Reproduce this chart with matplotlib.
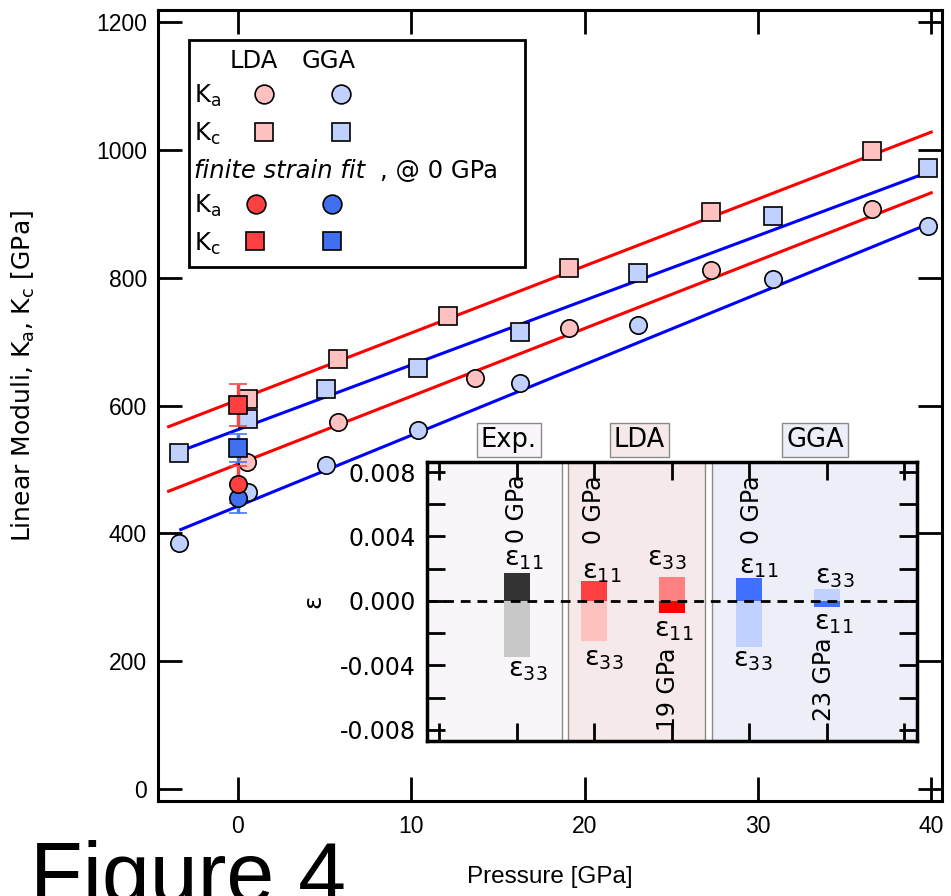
import matplotlib
matplotlib.use('Agg')
import matplotlib.pyplot as plt
import matplotlib.transforms as mtransforms
from matplotlib.patches import Rectangle
import numpy as np

plt.rcParams.update({
    "font.family": ['DejaVu Sans'],
    "font.size": 16,
    "mathtext.fontset": 'dejavusans',
})

NARROW = ['Liberation Sans', 'DejaVu Sans']

# calculated linear moduli (GPa) vs pressure (GPa)
p_lda_a = [0.5, 5.8, 13.7, 19.1, 27.3, 36.6]
k_lda_a = [512, 574, 643, 721, 812, 908]
p_lda_c = [0.6, 5.8, 12.1, 19.1, 27.3, 36.6]
k_lda_c = [610, 673, 740, 815, 903, 998]
p_gga = [-3.4, 0.6, 5.1, 10.4, 16.3, 23.1, 30.9, 39.8]
k_gga_a = [385, 465, 507, 562, 635, 726, 798, 881]
k_gga_c = [526, 579, 626, 659, 715, 808, 897, 972]

# finite strain fit curves (end points)
fit_p_lda = [-4.0, 40.0]
fit_lda_a = [466, 933]
fit_lda_c = [567, 1028]
fit_p_gga_a = [-3.3, 40.0]
fit_gga_a = [406, 886]
fit_p_gga_c = [-3.4, 39.7]
fit_gga_c = [528, 964]

# fitted moduli at 0 GPa with errors
k0_lda_a, dk0_lda_a = 477, 29
k0_lda_c, dk0_lda_c = 601, 33
k0_gga_a, dk0_gga_a = 455, 23
k0_gga_c, dk0_gga_c = 534, 22

# inset: strains
strain_x = [1, 2, 3, 4, 5]
eps11 = [0.00175, 0.00125, -0.00073, 0.00144, -0.00036]
eps33 = [-0.00348, -0.00248, 0.0015, -0.00288, 0.00075]
eps11_colors = ['#333333', '#FF4040', '#FF0000', '#4070FF', '#4070FF']
eps33_colors = ['#C8C8C8', '#FFC0C0', '#FF8080', '#C0D0FF', '#C0D0FF']

PINK = '#FFC0C0'
LBLUE = '#C0D0FF'
RED = '#FF4040'
BLUE = '#4070F0'

fig = plt.figure(figsize=(9.51, 8.96), dpi=100)
ax = fig.add_axes([0.166, 0.106, 0.8245, 0.8828])

ax.plot(fit_p_lda, fit_lda_c, color='#FF0000', lw=2.2, zorder=2)
ax.plot(fit_p_lda, fit_lda_a, color='#FF0000', lw=2.2, zorder=2)
ax.plot(fit_p_gga_c, fit_gga_c, color='#0000FF', lw=2.2, zorder=2)
ax.plot(fit_p_gga_a, fit_gga_a, color='#0000FF', lw=2.2, zorder=2)

mk = dict(ms=12.5, mec='black', mew=1.2, ls='none', zorder=3)
ax.plot(p_lda_a, k_lda_a, 'o', mfc=PINK, **mk)
ax.plot(p_lda_c, k_lda_c, 's', mfc=PINK, **mk)
ax.plot(p_gga, k_gga_a, 'o', mfc=LBLUE, **mk)
ax.plot(p_gga, k_gga_c, 's', mfc=LBLUE, **mk)

eb = dict(ms=12.5, mec='black', mew=1.2, capsize=6.5, elinewidth=2.5, capthick=2.5, zorder=4)
ax.errorbar([0], [k0_gga_a], yerr=dk0_gga_a, fmt='o', mfc=BLUE, ecolor='#4878F0', **eb)
ax.errorbar([0], [k0_lda_a], yerr=dk0_lda_a, fmt='o', mfc=RED, ecolor='#F04848', **eb)
ax.errorbar([0], [k0_gga_c], yerr=dk0_gga_c, fmt='s', mfc=BLUE, ecolor='#4878F0', **eb)
ax.errorbar([0], [k0_lda_c], yerr=dk0_lda_c, fmt='s', mfc=RED, ecolor='#F04848', **eb)

ax.set_xlim(-4.62, 40.62)
ax.set_ylim(-18.8, 1219)
ax.set_xticks([0, 10, 20, 30, 40])
ax.set_yticks(np.arange(0, 1201, 200))
ax.tick_params(direction='in', length=17, width=2, top=True, right=True, labelsize=16.5)
ax.tick_params(axis='x', pad=10)
ax.tick_params(axis='y', pad=8)
for lab in ax.get_xticklabels() + ax.get_yticklabels():
    lab.set_fontfamily(NARROW)
for s in ax.spines.values():
    s.set_linewidth(2.2)

ax.set_xlabel('Pressure [GPa]', fontsize=17.5, family=NARROW)
ax.xaxis.set_label_coords(0.5, -0.082)
ax.text(-0.171, 0.537, r'Linear Moduli, K$_\mathrm{a}$, K$_\mathrm{c}$ [GPa]', transform=ax.transAxes,
        rotation=90, ha='center', va='center', fontsize=18)

# legend box
ax.add_patch(Rectangle((0.0395, 0.675), 0.4285, 0.287, transform=ax.transAxes,
                       fc='white', ec='black', lw=2, zorder=5))
tl = dict(transform=ax.transAxes, fontsize=17.5, va='baseline', zorder=6)
ax.text(0.0918, 0.9267, 'LDA', **tl)
ax.text(0.1837, 0.9267, 'GGA', **tl)
ax.text(0.0459, 0.8824, r'K$_\mathrm{a}$', **tl)
ax.text(0.0459, 0.8344, r'K$_\mathrm{c}$', **tl)
ax.text(0.0459, 0.7876, 'finite strain fit', style='italic', **tl)
ax.text(0.283, 0.7876, ', @ 0 GPa', **tl)
ax.text(0.0459, 0.7434, r'K$_\mathrm{a}$', **tl)
ax.text(0.0459, 0.6953, r'K$_\mathrm{c}$', **tl)
lm = dict(transform=ax.transAxes, ms=13.5, mec='black', mew=1.2, ls='none', clip_on=False, zorder=7)
ax.plot([0.1352], [0.8938], 'o', mfc=PINK, **lm)
ax.plot([0.2334], [0.8938], 'o', mfc=LBLUE, **lm)
ax.plot([0.1352], [0.8458], 's', mfc=PINK, **lm)
ax.plot([0.2334], [0.8458], 's', mfc=LBLUE, **lm)
ax.plot([0.1250], [0.7547], 'o', mfc=RED, **lm)
ax.plot([0.2219], [0.7547], 'o', mfc=BLUE, **lm)
ax.plot([0.1237], [0.7080], 's', mfc=RED, **lm)
ax.plot([0.2219], [0.7080], 's', mfc=BLUE, **lm)

# inset
axi = fig.add_axes([0.449, 0.173, 0.515, 0.311])
axi.set_xlim(-0.155, 6.16)
axi.set_ylim(-0.0087, 0.0086)
axi.axvspan(-0.155, 1.58, fc='#F8F6F8', ec='#8a8a8a', lw=1, zorder=0)
axi.axvspan(1.66, 3.43, fc='#F6E9E9', ec='#8a8a8a', lw=1, zorder=0)
axi.axvspan(3.52, 6.16, fc='#ECEEF8', ec='#8a8a8a', lw=1, zorder=0)

axi.bar(strain_x, eps11, width=0.335, color=eps11_colors, zorder=2)
axi.bar(strain_x, eps33, width=0.335, color=eps33_colors, zorder=2)
axi.axhline(0, color='black', lw=2, ls=(0, (3.5, 2.5)), zorder=3)

axi.set_xticks(range(7))
axi.set_xticklabels([])
yt = np.arange(-0.008, 0.0081, 0.002)
axi.set_yticks(yt)
axi.set_yticklabels(['-0.008', '', '-0.004', '', '0.000', '', '0.004', '', '0.008'])
axi.tick_params(direction='in', length=13, width=2, top=True, right=True, labelsize=17, pad=8)
for s in axi.spines.values():
    s.set_linewidth(2.5)
axi.text(-0.232, 0.5, 'ε', transform=axi.transAxes, rotation=90, ha='center', va='center', fontsize=18)

# column headers
hdr = mtransforms.blended_transform_factory(axi.transData, axi.transAxes)
for x, lab, fc in [(0.90, 'Exp.', '#F8F6F8'), (2.58, 'LDA', '#F6E9E9'), (4.85, 'GGA', '#ECEEF8')]:
    axi.text(x, 1.081, lab, transform=hdr, ha='center', va='center', fontsize=18.5,
             bbox=dict(boxstyle='square,pad=0.15', fc=fc, ec='#8a8a8a', lw=1))

# pressure labels
gp = dict(rotation=90, ha='center', fontsize=17, zorder=4)
axi.text(1.0, 0.0036, '0 GPa', va='bottom', **gp)
axi.text(2.0, 0.0035, '0 GPa', va='bottom', **gp)
axi.text(4.03, 0.0035, '0 GPa', va='bottom', **gp)
axi.text(2.95, -0.0029, '19 GPa', va='top', **gp)
axi.text(4.97, -0.0023, '23 GPa', va='top', **gp)

# strain component labels
el = dict(ha='center', va='center', fontsize=19.5, zorder=4)
for x, y, sub in [(1.09, 0.0026, '11'), (1.15, -0.0043, '33'),
                  (2.10, 0.0018, '11'), (2.13, -0.0036, '33'),
                  (2.94, 0.0026, '33'), (3.03, -0.0018, '11'),
                  (4.12, 0.0021, '11'), (4.05, -0.0037, '33'),
                  (5.10, 0.0015, '33'), (5.09, -0.0014, '11')]:
    axi.text(x, y, r'ε$_\mathrm{%s}$' % sub, **el)

fig.text(0.032, 0.063, 'Figure 4', fontsize=62, va='top', family=NARROW)

fig.savefig('out.png', dpi=100)
